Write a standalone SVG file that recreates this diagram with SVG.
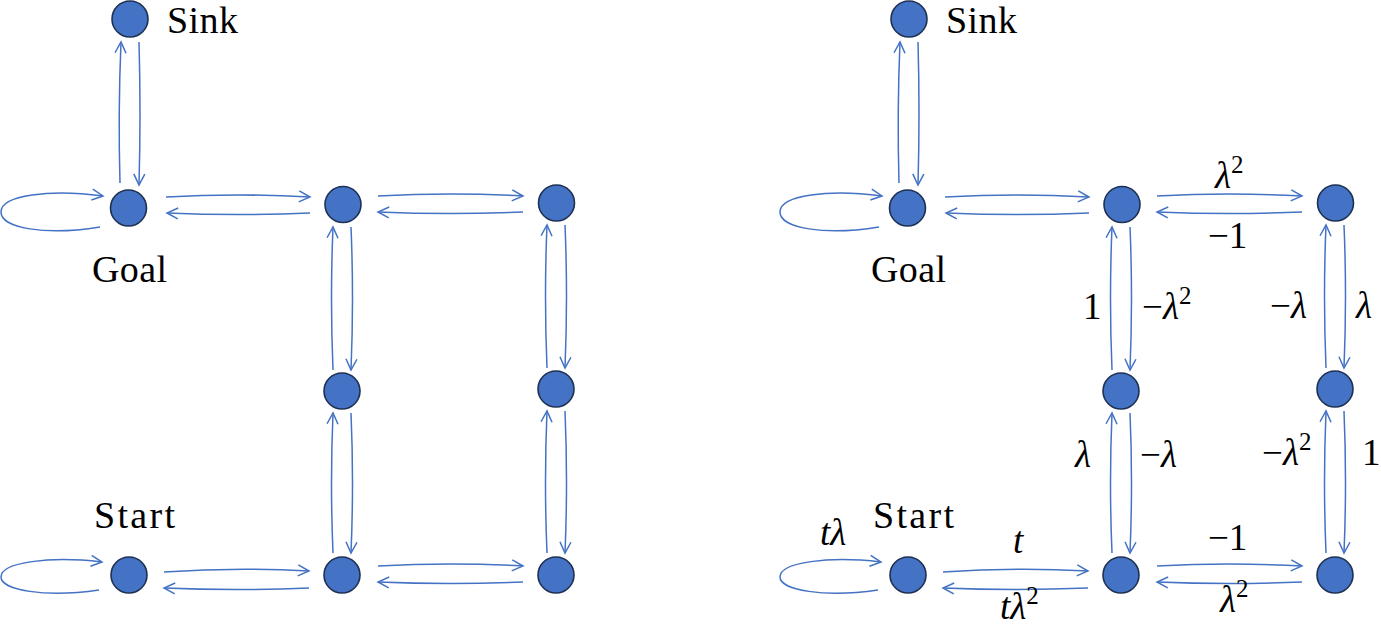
<svg xmlns="http://www.w3.org/2000/svg" width="1381" height="625" viewBox="0 0 1381 625">
<style>
.n{fill:#4472C4;stroke:#1F3152;stroke-width:1.6}
.e{fill:none;stroke:#4472C4;stroke-width:1.5}
.lab{font-family:"Liberation Serif",serif;font-size:38px;fill:#000}
.m{font-family:"Liberation Serif",serif;font-size:37px;fill:#000}
.i{font-style:italic}
.sup{font-size:25px}
</style>
<defs>
<marker id="ah" viewBox="0 0 14 14" markerWidth="14" markerHeight="14" refX="12" refY="7" orient="auto" markerUnits="userSpaceOnUse">
<path d="M1,1.5 L12,7 L1,12.5" fill="none" stroke="#4472C4" stroke-width="1.5"/>
</marker>
</defs>
<g id="connectors" class="e" marker-end="url(#ah)">
<g id="left-connectors">
<path class="e" marker-end="url(#ah)" d="M120,183 Q118,112 121,42"/>
<path class="e" marker-end="url(#ah)" d="M139,42 Q141,112 139,185"/>
<path class="e" marker-end="url(#ah)" d="M100,227 C45,236 1,228 1,212 C1,195 50,189 103,196"/>
<path class="e" marker-end="url(#ah)" d="M166,197 Q238,193 310,197"/>
<path class="e" marker-end="url(#ah)" d="M310,213 Q238,216 167,213"/>
<path class="e" marker-end="url(#ah)" d="M378,196 Q450,192 523,196"/>
<path class="e" marker-end="url(#ah)" d="M523,212 Q450,215 378,212"/>
<path class="e" marker-end="url(#ah)" d="M351,227 Q354,298 351,370"/>
<path class="e" marker-end="url(#ah)" d="M333,370 Q330,298 333,227"/>
<path class="e" marker-end="url(#ah)" d="M565,225 Q568,296 565,368"/>
<path class="e" marker-end="url(#ah)" d="M547,368 Q544,296 547,225"/>
<path class="e" marker-end="url(#ah)" d="M351,413 Q354,483 351,553"/>
<path class="e" marker-end="url(#ah)" d="M333,553 Q330,483 333,413"/>
<path class="e" marker-end="url(#ah)" d="M565,411 Q568,482 565,553"/>
<path class="e" marker-end="url(#ah)" d="M547,553 Q544,482 547,411"/>
<path class="e" marker-end="url(#ah)" d="M99,590 C45,598 1,590 1,577 C1,562 50,556 102,562"/>
<path class="e" marker-end="url(#ah)" d="M164,572 Q236,567 309,571"/>
<path class="e" marker-end="url(#ah)" d="M309,588 Q236,591 164,588"/>
<path class="e" marker-end="url(#ah)" d="M378,566 Q450,562 523,566"/>
<path class="e" marker-end="url(#ah)" d="M523,582 Q450,585 378,582"/>
</g>
<g id="right-connectors" transform="translate(779,0)">
<path class="e" marker-end="url(#ah)" d="M120,183 Q118,112 121,42"/>
<path class="e" marker-end="url(#ah)" d="M139,42 Q141,112 139,185"/>
<path class="e" marker-end="url(#ah)" d="M100,227 C45,236 1,228 1,212 C1,195 50,189 103,196"/>
<path class="e" marker-end="url(#ah)" d="M166,197 Q238,193 310,197"/>
<path class="e" marker-end="url(#ah)" d="M310,213 Q238,216 167,213"/>
<path class="e" marker-end="url(#ah)" d="M378,196 Q450,192 523,196"/>
<path class="e" marker-end="url(#ah)" d="M523,212 Q450,215 378,212"/>
<path class="e" marker-end="url(#ah)" d="M351,227 Q354,298 351,370"/>
<path class="e" marker-end="url(#ah)" d="M333,370 Q330,298 333,227"/>
<path class="e" marker-end="url(#ah)" d="M565,225 Q568,296 565,368"/>
<path class="e" marker-end="url(#ah)" d="M547,368 Q544,296 547,225"/>
<path class="e" marker-end="url(#ah)" d="M351,413 Q354,483 351,553"/>
<path class="e" marker-end="url(#ah)" d="M333,553 Q330,483 333,413"/>
<path class="e" marker-end="url(#ah)" d="M565,411 Q568,482 565,553"/>
<path class="e" marker-end="url(#ah)" d="M547,553 Q544,482 547,411"/>
<path class="e" marker-end="url(#ah)" d="M99,590 C45,598 1,590 1,577 C1,562 50,556 102,562"/>
<path class="e" marker-end="url(#ah)" d="M164,572 Q236,567 309,571"/>
<path class="e" marker-end="url(#ah)" d="M309,588 Q236,591 164,588"/>
<path class="e" marker-end="url(#ah)" d="M378,566 Q450,562 523,566"/>
<path class="e" marker-end="url(#ah)" d="M523,582 Q450,585 378,582"/>
</g>
</g>
<g id="left-graph">
<g id="L-sink"><circle class="n" cx="130" cy="19" r="18"/><text class="lab" font-family="Liberation Serif" x="167" y="33" textLength="71">Sink</text></g>
<g id="L-goal"><circle class="n" cx="128.5" cy="208" r="18"/><text class="lab" font-family="Liberation Serif" x="92" y="282" textLength="75">Goal</text></g>
<g id="L-a"><circle class="n" cx="343" cy="204.5" r="18"/></g>
<g id="L-b"><circle class="n" cx="556.5" cy="203" r="18"/></g>
<g id="L-c"><circle class="n" cx="342" cy="391" r="18"/></g>
<g id="L-d"><circle class="n" cx="556" cy="389" r="18"/></g>
<g id="L-start"><circle class="n" cx="129" cy="575" r="18"/><text class="lab" font-family="Liberation Serif" x="94" y="528" textLength="81">Start</text></g>
<g id="L-e"><circle class="n" cx="342" cy="575" r="18"/></g>
<g id="L-f"><circle class="n" cx="556" cy="575" r="18"/></g>
</g>
<g id="right-graph">
<g id="R-sink"><circle class="n" cx="909" cy="19" r="18"/><text class="lab" font-family="Liberation Serif" x="946" y="33" textLength="71">Sink</text></g>
<g id="R-goal"><circle class="n" cx="907.5" cy="208" r="18"/><text class="lab" font-family="Liberation Serif" x="871" y="282" textLength="75">Goal</text></g>
<g id="R-a"><circle class="n" cx="1122" cy="204.5" r="18"/></g>
<g id="R-b"><circle class="n" cx="1335.5" cy="203" r="18"/></g>
<g id="R-c"><circle class="n" cx="1121" cy="391" r="18"/></g>
<g id="R-d"><circle class="n" cx="1335" cy="389" r="18"/></g>
<g id="R-start"><circle class="n" cx="908" cy="575" r="18"/><text class="lab" font-family="Liberation Serif" x="873" y="528" textLength="81">Start</text></g>
<g id="R-e"><circle class="n" cx="1121" cy="575" r="18"/></g>
<g id="R-f"><circle class="n" cx="1335" cy="575" r="18"/></g>
</g>
<g id="edge-labels">
<text class="m" font-family="Liberation Serif" x="1215" y="188"><tspan class="i">λ</tspan><tspan class="sup" dy="-15">2</tspan></text>
<text class="m" font-family="Liberation Serif" x="1208" y="248">−1</text>
<text class="m" font-family="Liberation Serif" x="1083" y="319">1</text>
<text class="m" font-family="Liberation Serif" x="1142" y="319">−<tspan class="i">λ</tspan><tspan class="sup" dy="-15">2</tspan></text>
<text class="m" font-family="Liberation Serif" x="1270" y="318">−<tspan class="i">λ</tspan></text>
<text class="m i" font-family="Liberation Serif" x="1356" y="318">λ</text>
<text class="m i" font-family="Liberation Serif" x="1075" y="467">λ</text>
<text class="m" font-family="Liberation Serif" x="1140" y="467">−<tspan class="i">λ</tspan></text>
<text class="m" font-family="Liberation Serif" x="1262" y="465">−<tspan class="i">λ</tspan><tspan class="sup" dy="-15">2</tspan></text>
<text class="m" font-family="Liberation Serif" x="1362" y="465">1</text>
<text class="m" font-family="Liberation Serif" x="1208" y="550">−1</text>
<text class="m" font-family="Liberation Serif" x="1220" y="612"><tspan class="i">λ</tspan><tspan class="sup" dy="-15">2</tspan></text>
<text class="m i" font-family="Liberation Serif" x="1013" y="553">t</text>
<text class="m" font-family="Liberation Serif" x="1000" y="619"><tspan class="i">tλ</tspan><tspan class="sup" dy="-15">2</tspan></text>
<text class="m i" font-family="Liberation Serif" x="820" y="545">tλ</text>
</g>
</svg>
